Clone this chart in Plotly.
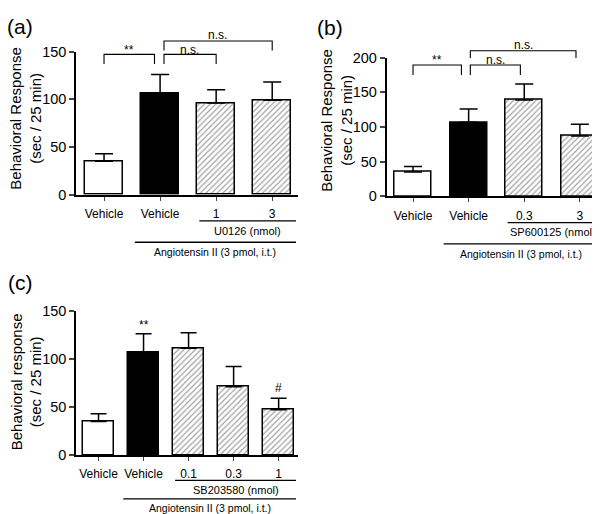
import plotly.graph_objects as go

W, H = 600, 514

# ---------------- data ----------------
a_labels = ["Vehicle", "Vehicle", "1", "3"]
a_means = [35, 106, 96, 99]
a_sem = [8, 20, 14, 19]

b_labels = ["Vehicle", "Vehicle", "0.3", "3"]
b_means = [35, 107, 139, 87]
b_sem = [8, 19, 23, 17]

c_labels = ["Vehicle", "Vehicle", "0.1", "0.3", "1"]
c_means = [35, 106, 111, 71, 47]
c_sem = [8, 20, 16, 21, 12]

FONT = "Liberation Sans, Arial, sans-serif"

def P(px):
    return px / W

def Q(py):
    return 1 - py / H

panels = [
    dict(name="a", labels=a_labels, means=a_means, sem=a_sem,
         xpx=(68, 290), ypx=(184.5, 36.7), xr=(-0.5, 3.46), yr=(0, 150), dtick=50,
         bw=0.68, capw=9, ytitle="Behavioral Response<br>(sec / 25 min)",
         tpos=(18, 106), plab=(12, 11), drug="U0126 (nmol)"),
    dict(name="b", labels=b_labels, means=b_means, sem=b_sem,
         xpx=(378.5, 593), ypx=(186.2, 43), xr=(-0.477, 3.38), yr=(0, 200), dtick=50,
         bw=0.67, capw=9, ytitle="Behavioral Response<br>(sec / 25 min)",
         tpos=(329, 108), plab=(322, 12), drug="SP600125 (nmol)"),
    dict(name="c", labels=c_labels, means=c_means, sem=c_sem,
         xpx=(68, 290), ypx=(453.3, 304), xr=(-0.5, 4.43), yr=(0, 150), dtick=50,
         bw=0.69, capw=8, ytitle="Behavioral response<br>(sec / 25 min)",
         tpos=(18, 378), plab=(12, 275), drug="SB203580 (nmol)"),
]

fig = go.Figure()
shapes = []
annotations = []

def fx(p, v):
    d0, d1 = P(p["xpx"][0]), P(p["xpx"][1])
    r0, r1 = p["xr"]
    return d0 + (v - r0) / (r1 - r0) * (d1 - d0)

def fy(p, v):
    d0, d1 = Q(p["ypx"][0]), Q(p["ypx"][1])
    r0, r1 = p["yr"]
    return d0 + (v - r0) / (r1 - r0) * (d1 - d0)

def below(p, pix):
    return Q(p["ypx"][0] + pix)

def hline(x0, x1, y, w=1.3):
    shapes.append(dict(type="line", xref="paper", yref="paper", x0=x0, x1=x1, y0=y, y1=y,
                       line=dict(color="black", width=w)))

def bracket(p, xa, xb, yt, yb):
    X0, X1 = fx(p, xa), fx(p, xb)
    T, B = fy(p, yt), fy(p, yb)
    shapes.append(dict(type="path", xref="paper", yref="paper",
                       path=f"M {X0},{B} L {X0},{T} L {X1},{T} L {X1},{B}",
                       line=dict(color="black", width=1.1)))

def text(x, y, s, size=12, **kw):
    annotations.append(dict(x=x, y=y, xref="paper", yref="paper", text=s, showarrow=False,
                            font=dict(family=FONT, size=size, color="black"),
                            xanchor="center", yanchor="middle", **kw))

for i, p in enumerate(panels):
    n = len(p["means"])
    xs = list(range(n))
    xa = "x" if i == 0 else f"x{i+1}"
    ya = "y" if i == 0 else f"y{i+1}"
    colors = ["white", "black"] + ["white"] * (n - 2)
    shapes_pat = ["", ""] + ["/"] * (n - 2)
    fig.add_trace(go.Bar(
        x=xs, y=p["means"], width=p["bw"], xaxis=xa, yaxis=ya, showlegend=False,
        marker=dict(color=colors, line=dict(color="black", width=1.5),
                    pattern=dict(shape=shapes_pat, fgcolor="#222222", bgcolor="white",
                                 size=4, solidity=0.3, fillmode="overlay")),
        error_y=dict(type="data", symmetric=False, array=p["sem"], arrayminus=[0] * n,
                     color="black", thickness=1.5, width=p["capw"]),
    ))
    axkey = "xaxis" if i == 0 else f"xaxis{i+1}"
    aykey = "yaxis" if i == 0 else f"yaxis{i+1}"
    fig.layout[axkey] = dict(
        domain=[P(p["xpx"][0]), P(p["xpx"][1])], range=list(p["xr"]), anchor=ya,
        tickvals=xs, ticktext=p["labels"], ticks="outside", ticklen=4, tickwidth=1.3,
        showline=True, linecolor="black", linewidth=1.5, showgrid=False, zeroline=False,
        tickfont=dict(family=FONT, size=12, color="black"), ticklabelstandoff=3,
        fixedrange=True)
    fig.layout[aykey] = dict(
        domain=[Q(p["ypx"][0]), Q(p["ypx"][1])], range=list(p["yr"]), anchor=xa,
        dtick=p["dtick"], tick0=0, ticks="outside", ticklen=5, tickwidth=1.5,
        showline=True, linecolor="black", linewidth=1.5, showgrid=False, zeroline=False,
        tickfont=dict(family=FONT, size=14.5, color="black"), fixedrange=True)

    # y title
    text(P(p["tpos"][0]), Q(p["tpos"][1]), p["ytitle"], size=15, textangle=-90)
    # panel label
    text(P(p["plab"][0]), Q(p["plab"][1]), f"({p['name']})", size=21)

    # group lines under axis
    xend = fx(p, p["xr"][1]) - 2 / W
    if p["name"] == "c":
        d_y, d_t, a_y, a_t = 26, 36, 45, 54
    else:
        d_y, d_t, a_y, a_t = 27, 37, 49, 59
    dx0 = fx(p, 2 - 0.3)
    hline(dx0, xend, below(p, d_y))
    text((dx0 + xend) / 2, below(p, d_t), p["drug"], size=11)
    ax0 = fx(p, 1 - 0.45)
    hline(ax0, xend, below(p, a_y))
    text((ax0 + xend) / 2, below(p, a_t), "Angiotensin II (3 pmol, i.t.)", size=10.5)

# brackets / significance
pa, pb, pc = panels
bracket(pa, 0, 0.9, 147, 137)
text(fx(pa, 0.45), fy(pa, 152), "**", size=12)
bracket(pa, 1.07, 2, 147, 137)
text(fx(pa, 1.53), fy(pa, 152), "n.s.", size=12)
bracket(pa, 1.07, 3, 161, 151)
text(fx(pa, 2.03), fy(pa, 167), "n.s.", size=12)

bracket(pb, 0, 0.87, 189.5, 175)
text(fx(pb, 0.43), fy(pb, 197), "**", size=12)
bracket(pb, 1.03, 1.93, 189.5, 175)
text(fx(pb, 1.48), fy(pb, 197), "n.s.", size=12)
bracket(pb, 1.03, 2.93, 210, 199.5)
text(fx(pb, 1.98), fy(pb, 218), "n.s.", size=12)

text(fx(pc, 1), fy(pc, pc["means"][1] + pc["sem"][1] + 9), "**", size=12)
text(fx(pc, 4), fy(pc, pc["means"][4] + pc["sem"][4] + 11), "#", size=12)

fig.update_layout(width=W, height=H, margin=dict(l=0, r=0, t=0, b=0),
                  paper_bgcolor="white", plot_bgcolor="white",
                  shapes=shapes, annotations=annotations, bargap=0)
fig.write_html("out.html")
